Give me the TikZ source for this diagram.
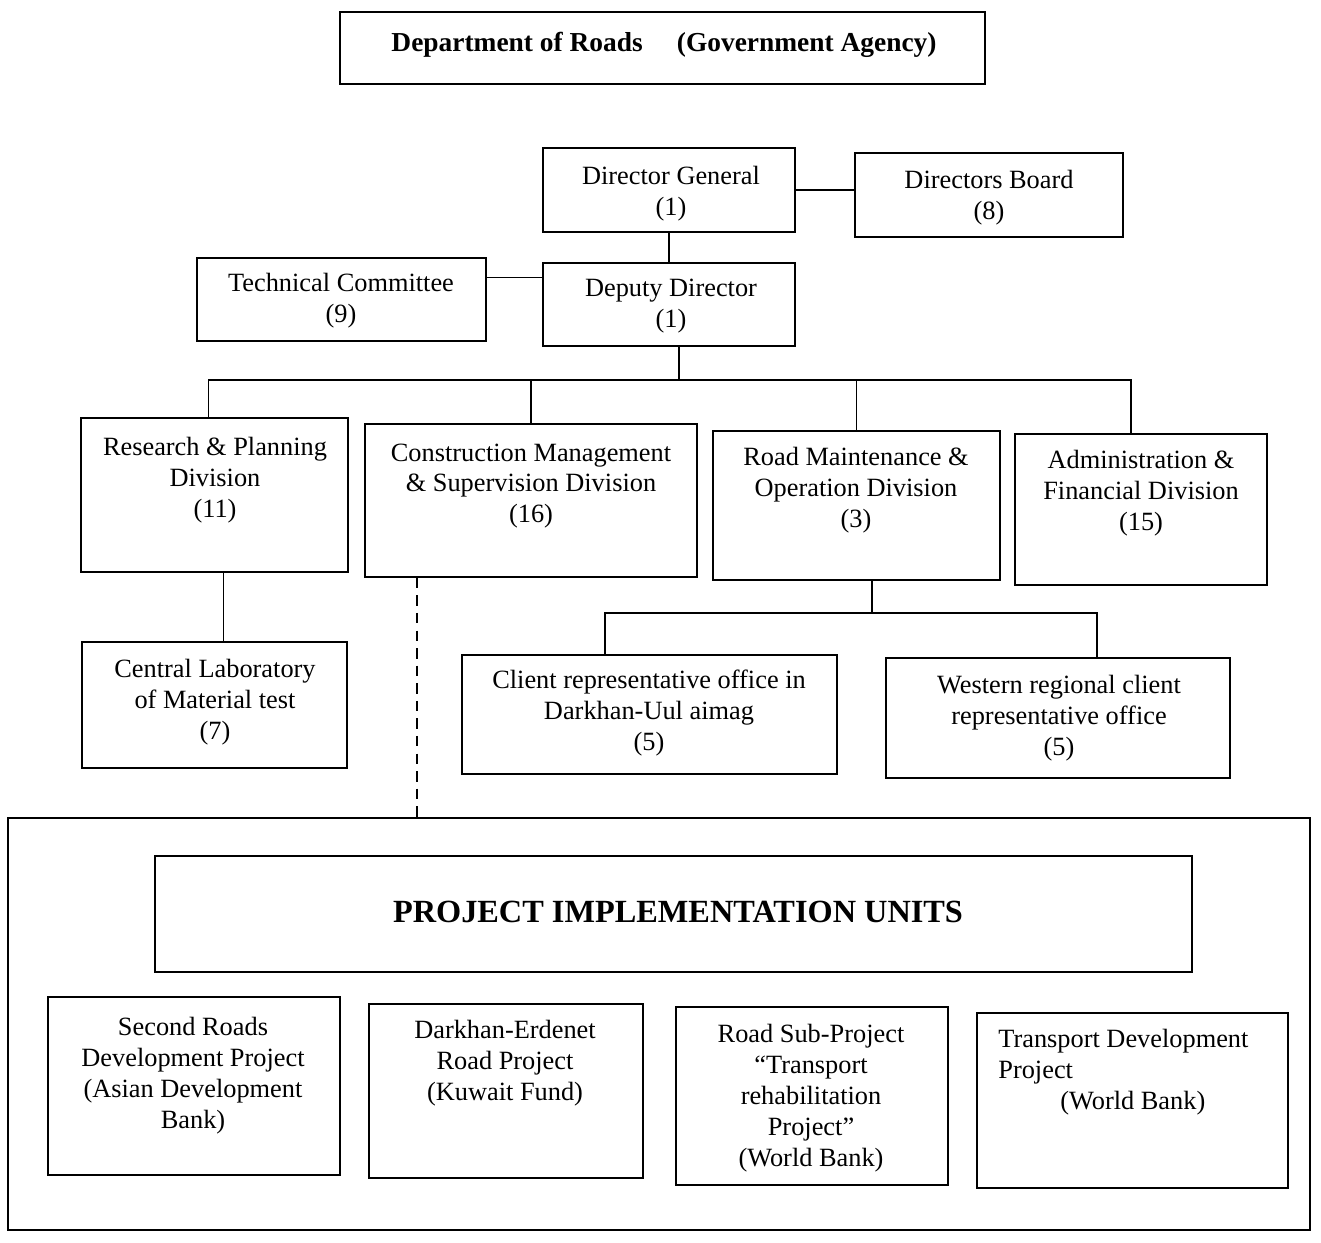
\documentclass[tikz,border=0pt]{standalone}
\usepackage{fontspec}
\setmainfont{Liberation Serif}
\usetikzlibrary{fit}
\begin{document}
\begin{tikzpicture}[x=0.02cm,y=-0.02cm,
  box/.style={draw, line width=0.9pt, inner sep=0pt},
  lbl/.style={align=center, font=\fontsize{15}{17.6}\selectfont, inner sep=0pt},
  conn/.style={line width=0.9pt},
  dashconn/.style={line width=0.9pt, dash pattern=on 6pt off 4pt}]
\useasboundingbox (0,0) rectangle (1321,1242);

% boxes
\node[box, fit={(340,12) (985,84)}] (title) {};
\node[box, fit={(543,148) (795,232)}] (dg) {};
\node[box, fit={(855,153) (1123,237)}] (db) {};
\node[box, fit={(197,258) (486,341)}] (tc) {};
\node[box, fit={(543,263) (795,346)}] (dd) {};
\node[box, fit={(81,418) (348,572)}] (rp) {};
\node[box, fit={(365,424) (697,577)}] (cm) {};
\node[box, fit={(713,431) (1000,580)}] (rm) {};
\node[box, fit={(1015,434) (1267,585)}] (ad) {};
\node[box, fit={(82,642) (347,768)}] (cl) {};
\node[box, fit={(462,655) (837,774)}] (c1) {};
\node[box, fit={(886,658) (1230,778)}] (c2) {};
\node[box, fit={(8,818) (1310,1230)}] (outer) {};
\node[box, fit={(155,856) (1192,972)}] (piu) {};
\node[box, fit={(48,997) (340,1175)}] (sr) {};
\node[box, fit={(369,1004) (643,1178)}] (de) {};
\node[box, fit={(676,1007) (948,1185)}] (rs) {};
\node[box, fit={(977,1013) (1288,1188)}] (td) {};

% labels
\node[lbl, font=\bfseries\fontsize{15.6}{18}\selectfont] (titlet) at (664,45) {Department of Roads\quad\ (Government Agency)};
\node[lbl] (dgt) at (671,194) {Director General\\(1)};
\node[lbl] (dbt) at (989,198) {Directors Board\\(8)};
\node[lbl] (tct) at (341,301) {Technical Committee\\(9)};
\node[lbl] (ddt) at (671,306) {Deputy Director\\(1)};
\node[lbl] (rpt) at (215,480) {Research \& Planning\\Division\\(11)};
\node[lbl] (cmt) at (531,486) {Construction Management\\\& Supervision Division\\(16)};
\node[lbl] (rmt) at (856,490) {Road Maintenance \&\\Operation Division\\(3)};
\node[lbl] (adt) at (1141,493) {Administration \&\\Financial Division\\(15)};
\node[lbl] (clt) at (215,702) {Central Laboratory\\of Material test\\(7)};
\node[lbl] (c1t) at (649,713) {Client representative office in\\Darkhan-Uul aimag\\(5)};
\node[lbl] (c2t) at (1059,718) {Western regional client\\representative office\\(5)};
\node[lbl, font=\bfseries\fontsize{18.4}{22}\selectfont] (piut) at (678,912) {PROJECT IMPLEMENTATION UNITS};
\node[lbl] (srt) at (193,1076) {Second Roads\\Development Project\\(Asian Development\\Bank)};
\node[lbl] (det) at (505,1063) {Darkhan-Erdenet\\Road Project\\(Kuwait Fund)};
\node[lbl] (rst) at (811,1098) {Road Sub-Project\\``Transport\\rehabilitation\\Project''\\(World Bank)};
\node[lbl, align=left, anchor=north west] (tdt) at (998,1029) {Transport Development\\Project\\\hspace{1.24cm}(World Bank)};

% connectors
\coordinate (bus) at (679,380);
\draw[conn] (dg.south) -- (dg.south |- dd.north);
\draw[conn] (dg.east) -- (dg.east -| db.west);
\draw[conn] (tc.east) ++(0,-22) coordinate (tcj) -- (tcj -| dd.west);
\draw[conn] (bus |- dd.south) -- (bus);
\draw[conn] (rp.north) ++(-6,0) coordinate (rpn) |- (bus);
\draw[conn] (bus) -| ([xshift=-0.2cm]ad.north);
\draw[conn] (cm.north) -- (cm.north |- bus);
\draw[conn] (rm.north) -- (rm.north |- bus);
\draw[conn] (rp.south) ++(9,0) coordinate (rpj) -- (rpj |- cl.north);
\coordinate (rmj) at (872,613);
\coordinate (d1) at (605,613);
\coordinate (d2) at (1097,613);
\draw[conn] (rmj |- rm.south) -- (rmj);
\draw[conn] (d1 |- c1.north) -- (d1) -- (d2) -- (d2 |- c2.north);
\coordinate (dsh) at (417,577);
\draw[dashconn] (dsh |- cm.south) -- (dsh |- outer.north);
\end{tikzpicture}
\end{document}
